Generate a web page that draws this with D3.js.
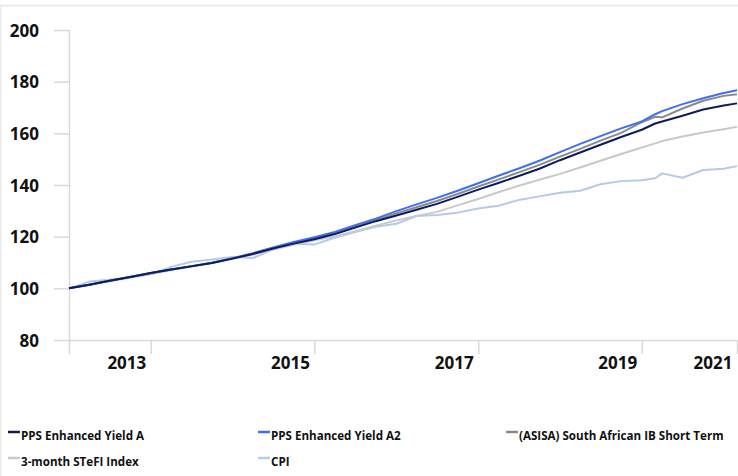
<!DOCTYPE html>
<html>
<head>
<meta charset="utf-8">
<script src="https://cdn.jsdelivr.net/npm/d3@7"></script>
<style>
  body { margin: 0; background: #fff; }
  #chart text { font-family: "Segoe UI", "Open Sans", "Noto Sans", sans-serif; font-weight: bold; fill: #111; }
</style>
</head>
<body>
<div id="chart"></div>
<script>
// DATA
const dates = ["2013-01","2013-04","2013-07","2013-10","2014-01","2014-04","2014-07","2014-10",
  "2015-01","2015-04","2015-07","2015-10","2016-01","2016-04","2016-07","2016-10",
  "2017-01","2017-04","2017-07","2017-10","2018-01","2018-04","2018-07","2018-10",
  "2019-01","2019-04","2019-07","2019-10","2020-01","2020-03","2020-04","2020-07",
  "2020-10","2021-01","2021-03"];
const ppsA = [100.0,101.4,102.9,104.4,105.9,107.3,108.5,109.8,111.5,113.3,115.4,117.3,119.0,121.0,123.5,126.0,
  128.2,130.4,132.7,135.4,138.2,140.8,143.5,146.3,149.6,152.6,155.6,158.6,161.4,163.8,164.6,166.8,169.2,170.8,171.6];
const ppsA2 = [100.0,101.4,102.9,104.4,105.9,107.3,108.6,109.9,111.7,113.6,115.8,117.9,119.8,121.8,124.4,127.0,
  129.9,132.5,135.0,137.8,140.7,143.6,146.4,149.4,152.7,155.9,158.9,161.9,164.6,167.4,168.6,171.3,173.6,175.6,176.7];
const asisa = [100.0,101.4,102.9,104.4,105.9,107.3,108.6,109.9,111.6,113.4,115.6,117.6,119.4,121.4,123.9,126.4,
  129.0,131.4,133.8,136.5,139.4,142.1,144.9,147.8,151.0,154.0,157.2,160.2,164.3,166.4,166.2,169.6,172.6,174.5,175.1];
const stefi = [100.0,101.3,102.7,104.1,105.5,107.0,108.4,109.8,111.4,113.1,115.0,116.9,118.6,120.2,122.1,124.2,
  126.3,128.0,129.6,132.1,134.6,137.2,139.7,142.0,144.3,146.8,149.4,152.0,154.5,156.1,157.0,158.8,160.3,161.6,162.5];
const cpi = [100.0,102.6,103.3,104.3,105.4,108.3,110.3,111.2,112.1,111.7,115.1,117.3,117.0,119.6,121.8,123.8,
  125.0,128.0,128.4,129.3,130.9,132.0,134.2,135.6,137.0,137.8,140.3,141.5,141.8,142.6,144.5,142.8,145.8,146.3,147.3];

const seriesNames = ["PPS Enhanced Yield A", "PPS Enhanced Yield A2", "(ASISA) South African IB Short Term", "3-month STeFI Index", "CPI"];
const seriesValues = [ppsA, ppsA2, asisa, stefi, cpi];
const colors = ["#0d1c5c", "#3f6ef0", "#8a8a8a", "#c9c9c9", "#b3cae8"];

const yTicks = [80, 100, 120, 140, 160, 180, 200];
const xTickDates = ["2013-01", "2014-01", "2016-01", "2018-01", "2020-01", "2021-03"];
const xTickLabels = ["", "2013", "2015", "2017", "2019", "2021"];

// CHART
const width = 738, height = 476;
const parse = d3.timeParse("%Y-%m");
const svg = d3.select("#chart").append("svg")
  .attr("width", width).attr("height", height);

// card border
svg.append("path")
  .attr("d", "M0.5," + height + " V5.5 H" + width)
  .attr("fill", "none").attr("stroke", "#ebebeb").attr("stroke-width", 2);

const x = d3.scaleTime()
  .domain([parse(dates[0]), parse(dates[dates.length - 1])])
  .range([69, 737]);
const y = d3.scaleLinear().domain([80, 200]).range([340, 30]);

// axes
const yAxis = svg.append("g").attr("transform", "translate(69,0)")
  .call(d3.axisLeft(y).tickValues(yTicks).tickSize(15).tickSizeOuter(0).tickPadding(15));
yAxis.selectAll("text").style("font-size", "17px").attr("dy", "0.36em");

const xAxis = svg.append("g").attr("transform", "translate(0,340)")
  .call(d3.axisBottom(x).tickValues(xTickDates.map(parse)).tickSize(14).tickSizeOuter(0)
    .tickFormat(function(d, i) { return xTickLabels[i]; }));
xAxis.selectAll("text").style("font-size", "17px")
  .attr("text-anchor", "end").attr("x", -5).attr("y", 29).attr("dy", 0);

svg.selectAll(".domain, .tick line").attr("stroke", "#dadada").attr("stroke-width", 1.5);

// lines (CPI first, fund A on top)
const line = d3.line()
  .x(function(d, i) { return x(parse(dates[i])); })
  .y(function(d) { return y(d); });

for (let k = seriesValues.length - 1; k >= 0; k--) {
  svg.append("path")
    .datum(seriesValues[k])
    .attr("fill", "none")
    .attr("stroke", colors[k])
    .attr("stroke-width", 2)
    .attr("stroke-linejoin", "round")
    .attr("d", line);
}

// legend
const legendPos = [[8, 433], [258, 433], [506, 433], [8, 459], [258, 459]];
const legend = svg.selectAll(".legend-item")
  .data(seriesNames)
  .enter().append("g")
  .attr("class", "legend-item")
  .attr("transform", function(d, i) { return "translate(" + legendPos[i][0] + "," + legendPos[i][1] + ")"; });
legend.append("line")
  .attr("x1", 0).attr("x2", 12).attr("y1", -1).attr("y2", -1)
  .attr("stroke", function(d, i) { return colors[i]; })
  .attr("stroke-width", 2.5);
legend.append("text")
  .attr("x", 13).attr("y", 3)
  .attr("dy", "0.32em")
  .style("font-size", "11.6px")
  .text(function(d) { return d; });
</script>
</body>
</html>
